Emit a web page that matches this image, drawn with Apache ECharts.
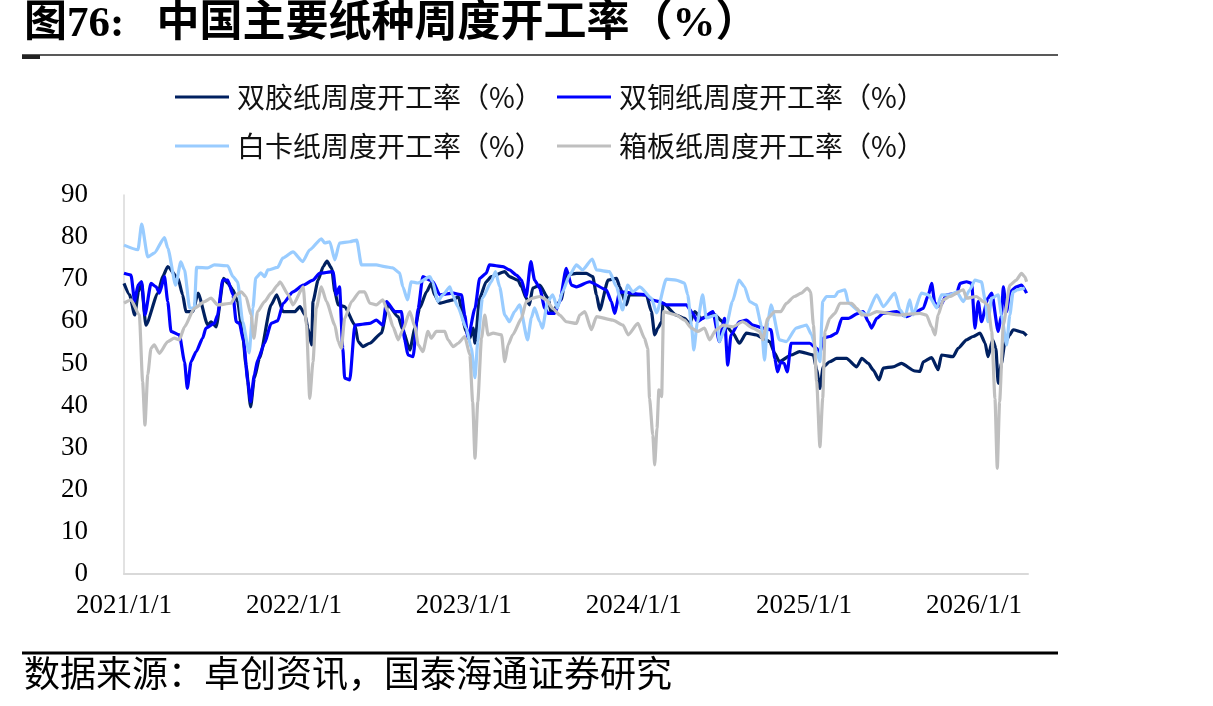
<!DOCTYPE html>
<html>
<head>
<meta charset="utf-8">
<script src="https://cdn.jsdelivr.net/npm/echarts@6/dist/echarts.min.js"></script>
<style>
  html, body { margin: 0; padding: 0; background: #fff; }
  #chart { width: 1213px; height: 706px; }
</style>
</head>
<body>
<div id="chart"></div>
<script>
// 周度开工率(%)
const shuangJiao = [['2021-01-01',69.0],['2021-01-13',66.3],['2021-01-24',61.5],['2021-02-01',67.0],['2021-02-07',69.4],['2021-02-17',59.1],['2021-03-15',66.7],['2021-03-25',70.6],['2021-04-05',73.0],['2021-04-27',70.2],['2021-05-07',66.3],['2021-05-14',62.3],['2021-05-29',62.3],['2021-06-09',66.7],['2021-06-30',59.1],['2021-07-07',59.9],['2021-07-18',58.7],['2021-08-03',70.2],['2021-08-12',69.0],['2021-08-23',67.5],['2021-09-02',64.7],['2021-09-13',56.8],['2021-09-20',49.6],['2021-09-30',39.7],['2021-10-08',46.5],['2021-10-19',51.2],['2021-11-13',63.9],['2021-11-25',66.3],['2021-12-09',62.3],['2022-01-03',62.3],['2022-01-14',63.5],['2022-01-25',61.5],['2022-01-31',58.4],['2022-02-08',54.4],['2022-02-11',64.7],['2022-02-22',69.8],['2022-03-05',73.0],['2022-03-13',74.3],['2022-03-23',72.6],['2022-03-30',67.0],['2022-04-06',63.9],['2022-04-20',63.5],['2022-05-12',59.1],['2022-05-19',55.2],['2022-05-29',54.0],['2022-06-13',54.8],['2022-07-08',57.2],['2022-07-22',63.9],['2022-08-13',61.1],['2022-08-23',58.0],['2022-09-07',53.2],['2022-09-18',58.4],['2022-09-28',63.1],['2022-10-13',67.0],['2022-10-23',69.0],['2022-10-30',66.3],['2022-11-10',64.3],['2022-12-09',65.1],['2022-12-20',65.9],['2023-01-06',57.6],['2023-01-14',56.0],['2023-01-21',58.4],['2023-01-25',54.8],['2023-02-04',65.5],['2023-02-18',69.4],['2023-03-01',70.6],['2023-03-30',71.8],['2023-04-09',70.6],['2023-04-27',69.8],['2023-05-05',68.2],['2023-05-15',65.5],['2023-05-22',63.9],['2023-05-29',67.9],['2023-06-13',68.6],['2023-07-01',65.5],['2023-07-08',61.9],['2023-07-29',65.1],['2023-08-09',71.0],['2023-08-31',71.4],['2023-09-21',71.4],['2023-10-05',70.6],['2023-10-13',66.3],['2023-10-20',62.7],['2023-11-07',69.8],['2023-11-25',70.2],['2023-12-02',68.2],['2023-12-16',63.9],['2023-12-23',66.3],['2024-01-28',66.3],['2024-02-08',62.3],['2024-02-15',56.8],['2024-02-22',58.4],['2024-03-01',59.9],['2024-03-04',64.3],['2024-04-01',61.5],['2024-04-19',60.7],['2024-04-30',59.5],['2024-05-11',62.3],['2024-05-25',60.7],['2024-06-19',61.9],['2024-07-11',59.9],['2024-08-01',57.2],['2024-08-15',54.8],['2024-08-30',57.2],['2024-09-20',56.8],['2024-10-04',56.0],['2024-10-19',55.2],['2024-10-30',52.4],['2024-11-09',50.4],['2024-12-04',52.0],['2024-12-22',52.8],['2025-01-21',52.0],['2025-01-28',48.5],['2025-02-04',44.1],['2025-02-11',49.2],['2025-02-25',50.4],['2025-03-12',51.2],['2025-04-02',51.2],['2025-04-24',49.2],['2025-05-05',51.2],['2025-05-19',50.0],['2025-05-29',48.5],['2025-06-11',46.1],['2025-06-20',48.9],['2025-07-11',49.2],['2025-07-29',50.0],['2025-08-27',48.2],['2025-09-07',48.1],['2025-09-14',50.4],['2025-10-02',51.4],['2025-10-16',48.5],['2025-10-23',52.0],['2025-11-17',51.6],['2025-11-28',53.6],['2025-12-16',55.6],['2025-12-30',56.4],['2026-01-14',57.2],['2026-01-25',54.8],['2026-01-31',51.6],['2026-02-10',55.6],['2026-02-17',53.6],['2026-02-22',45.3],['2026-03-01',50.0],['2026-03-08',54.8],['2026-03-19',56.8],['2026-03-26',58.0],['2026-04-16',57.4],['2026-04-24',56.6]];

const shuangTong = [['2021-01-01',71.4],['2021-01-16',71.0],['2021-01-24',64.7],['2021-01-31',68.6],['2021-02-08',69.4],['2021-02-15',61.5],['2021-02-28',69.0],['2021-03-11',68.2],['2021-03-18',66.7],['2021-03-29',70.6],['2021-04-05',64.7],['2021-04-12',57.6],['2021-04-30',56.8],['2021-05-11',50.4],['2021-05-17',44.1],['2021-05-25',50.4],['2021-06-05',52.8],['2021-06-19',56.0],['2021-06-26',58.4],['2021-07-14',59.5],['2021-07-21',61.5],['2021-08-01',69.8],['2021-08-12',69.8],['2021-08-23',66.3],['2021-08-30',59.9],['2021-09-06',59.5],['2021-09-15',55.2],['2021-09-24',45.7],['2021-09-30',40.9],['2021-10-08',47.3],['2021-10-15',50.8],['2021-10-30',54.8],['2021-11-13',59.5],['2021-11-27',60.1],['2021-12-09',64.3],['2021-12-30',67.0],['2022-01-21',68.6],['2022-02-11',69.8],['2022-02-25',71.4],['2022-03-26',71.8],['2022-04-02',66.3],['2022-04-09',68.2],['2022-04-16',53.6],['2022-04-20',46.5],['2022-05-01',46.1],['2022-05-12',59.1],['2022-06-13',59.5],['2022-06-27',60.3],['2022-07-11',59.1],['2022-07-19',64.7],['2022-08-06',62.3],['2022-08-20',62.3],['2022-08-27',55.6],['2022-09-03',52.0],['2022-09-14',51.6],['2022-09-25',63.1],['2022-10-05',70.6],['2022-10-20',69.8],['2022-10-27',69.4],['2022-11-10',66.3],['2022-12-09',66.7],['2022-12-27',66.3],['2023-01-03',61.5],['2023-01-10',56.0],['2023-01-25',63.1],['2023-02-04',70.2],['2023-02-18',71.4],['2023-02-25',73.4],['2023-03-26',73.0],['2023-04-09',72.2],['2023-04-24',71.0],['2023-05-05',69.8],['2023-05-15',65.9],['2023-05-25',74.2],['2023-06-02',69.8],['2023-06-13',67.9],['2023-06-24',63.1],['2023-07-01',61.9],['2023-07-15',61.9],['2023-07-26',64.7],['2023-08-09',72.6],['2023-08-20',68.6],['2023-08-31',68.2],['2023-09-28',69.4],['2023-11-03',67.5],['2023-11-14',64.7],['2023-11-21',61.9],['2023-12-02',67.0],['2024-01-28',66.3],['2024-02-08',65.1],['2024-02-25',64.7],['2024-03-11',63.9],['2024-04-23',63.9],['2024-05-07',61.9],['2024-05-17',59.9],['2024-05-28',60.7],['2024-06-19',62.3],['2024-07-03',55.2],['2024-07-14',60.7],['2024-07-21',49.6],['2024-07-28',56.8],['2024-08-15',59.9],['2024-08-30',60.3],['2024-09-13',59.1],['2024-10-04',58.4],['2024-10-22',58.0],['2024-10-30',51.2],['2024-11-05',48.0],['2024-11-12',50.4],['2024-11-19',50.0],['2024-11-26',48.0],['2024-12-04',54.8],['2025-01-13',54.8],['2025-01-28',53.6],['2025-02-04',52.4],['2025-02-11',56.0],['2025-02-25',56.4],['2025-03-12',57.2],['2025-03-23',60.7],['2025-04-06',60.7],['2025-04-27',61.9],['2025-05-08',62.3],['2025-05-19',59.9],['2025-05-26',58.4],['2025-06-06',60.7],['2025-06-20',61.9],['2025-07-19',62.3],['2025-08-09',61.1],['2025-08-31',62.3],['2025-09-14',63.1],['2025-09-25',66.3],['2025-10-02',69.0],['2025-10-09',64.3],['2025-10-20',63.5],['2025-11-03',66.3],['2025-11-25',66.7],['2025-12-02',69.0],['2025-12-16',69.4],['2025-12-27',69.0],['2026-01-03',58.4],['2026-01-10',64.7],['2026-01-17',59.9],['2026-01-31',65.5],['2026-02-08',66.7],['2026-02-22',57.6],['2026-03-01',61.5],['2026-03-05',68.2],['2026-03-12',62.3],['2026-03-19',67.0],['2026-04-02',68.2],['2026-04-13',68.6],['2026-04-24',66.7]];

const baiKa = [['2021-01-01',78.1],['2021-01-31',77.0],['2021-02-08',83.1],['2021-02-21',75.3],['2021-03-07',76.2],['2021-03-29',79.9],['2021-04-05',77.4],['2021-04-22',68.6],['2021-05-03',74.1],['2021-05-11',72.2],['2021-05-22',63.2],['2021-06-01',63.0],['2021-06-06',72.8],['2021-06-30',72.7],['2021-07-14',73.4],['2021-08-12',73.2],['2021-08-23',70.6],['2021-09-02',69.4],['2021-09-13',59.9],['2021-09-27',52.5],['2021-10-05',63.2],['2021-10-11',70.3],['2021-10-22',71.5],['2021-10-30',70.6],['2021-11-06',72.2],['2021-11-27',72.8],['2021-12-08',75.0],['2021-12-30',76.5],['2022-01-20',74.2],['2022-02-04',77.0],['2022-03-01',79.6],['2022-03-08',78.6],['2022-03-19',78.9],['2022-03-30',74.6],['2022-04-09',78.6],['2022-05-01',78.9],['2022-05-16',79.3],['2022-05-26',73.4],['2022-06-27',73.4],['2022-07-15',73.0],['2022-08-01',72.7],['2022-08-16',71.5],['2022-08-23',68.2],['2022-09-02',65.1],['2022-09-10',69.4],['2022-09-24',69.1],['2022-10-20',70.6],['2022-10-26',69.4],['2022-11-06',64.7],['2022-11-17',66.3],['2022-12-02',68.2],['2022-12-08',66.3],['2022-12-19',63.5],['2023-01-06',58.4],['2023-01-17',53.7],['2023-01-25',46.6],['2023-01-31',55.2],['2023-02-10',65.5],['2023-03-01',69.4],['2023-03-10',71.8],['2023-03-19',68.2],['2023-03-30',61.5],['2023-04-09',59.9],['2023-04-20',62.3],['2023-05-01',63.9],['2023-05-18',55.6],['2023-05-26',60.8],['2023-06-02',63.2],['2023-06-13',59.9],['2023-06-19',58.4],['2023-06-30',64.7],['2023-07-11',66.3],['2023-07-21',63.2],['2023-08-01',67.0],['2023-08-16',71.0],['2023-08-31',73.4],['2023-09-13',72.2],['2023-10-04',74.8],['2023-10-13',72.2],['2023-11-10',71.8],['2023-11-25',68.2],['2023-12-08',62.7],['2023-12-19',68.6],['2023-12-30',67.0],['2024-01-14',68.2],['2024-02-08',65.5],['2024-02-19',62.0],['2024-03-11',70.0],['2024-04-01',69.8],['2024-04-19',69.1],['2024-04-26',66.3],['2024-05-04',59.1],['2024-05-09',53.2],['2024-05-17',59.9],['2024-05-28',66.3],['2024-06-05',60.8],['2024-06-26',61.5],['2024-07-03',55.2],['2024-07-18',59.1],['2024-07-31',64.7],['2024-08-14',69.8],['2024-08-26',68.2],['2024-09-06',64.7],['2024-09-20',63.9],['2024-10-01',59.1],['2024-10-08',50.8],['2024-10-15',59.9],['2024-10-22',63.9],['2024-11-09',55.6],['2024-11-24',55.2],['2024-12-15',58.4],['2025-01-06',59.1],['2025-01-17',56.8],['2025-01-28',52.8],['2025-02-04',50.4],['2025-02-10',64.7],['2025-02-18',65.9],['2025-03-08',65.9],['2025-03-15',67.0],['2025-03-30',67.5],['2025-04-06',64.4],['2025-05-01',62.3],['2025-05-15',61.5],['2025-06-06',66.3],['2025-06-20',63.5],['2025-07-15',66.7],['2025-07-26',62.7],['2025-08-06',61.1],['2025-08-16',65.1],['2025-08-23',61.5],['2025-09-10',66.7],['2025-09-25',66.3],['2025-10-13',63.2],['2025-10-23',66.3],['2025-11-10',66.3],['2025-11-25',67.0],['2025-12-09',64.7],['2025-12-23',67.5],['2026-01-03',69.8],['2026-01-17',69.4],['2026-01-25',65.0],['2026-01-31',59.9],['2026-02-08',65.5],['2026-02-22',66.3],['2026-03-01',61.5],['2026-03-12',54.4],['2026-03-19',61.5],['2026-03-26',67.0],['2026-04-05',67.5],['2026-04-20',67.9]];

const xiangBan = [['2021-01-01',64.3],['2021-01-16',65.1],['2021-02-03',61.5],['2021-02-10',45.7],['2021-02-15',35.4],['2021-02-21',47.3],['2021-02-28',53.6],['2021-03-07',54.4],['2021-03-18',52.4],['2021-04-05',55.2],['2021-04-19',56.0],['2021-04-30',55.6],['2021-05-11',58.7],['2021-06-01',63.1],['2021-06-23',64.7],['2021-07-07',65.5],['2021-07-21',63.9],['2021-08-19',64.3],['2021-08-30',66.3],['2021-09-10',67.0],['2021-09-20',65.9],['2021-10-01',61.5],['2021-10-07',56.0],['2021-10-15',62.3],['2021-10-30',64.7],['2021-11-13',66.7],['2021-11-27',68.6],['2021-12-02',69.4],['2021-12-20',66.3],['2021-12-30',63.9],['2022-01-21',68.2],['2022-01-28',59.1],['2022-02-04',41.7],['2022-02-11',50.4],['2022-02-18',63.1],['2022-03-01',68.2],['2022-03-12',64.7],['2022-03-30',59.1],['2022-04-06',55.2],['2022-04-13',53.6],['2022-04-20',60.7],['2022-05-05',64.7],['2022-05-22',67.0],['2022-06-02',67.0],['2022-06-13',64.3],['2022-06-27',63.9],['2022-07-11',65.1],['2022-07-22',62.3],['2022-08-02',58.7],['2022-08-13',55.6],['2022-08-23',58.0],['2022-09-07',62.3],['2022-09-18',58.7],['2022-09-25',54.4],['2022-10-05',52.8],['2022-10-16',57.6],['2022-10-23',56.0],['2022-11-03',57.6],['2022-11-21',57.6],['2022-11-28',55.6],['2022-12-09',54.0],['2022-12-20',54.8],['2023-01-03',56.4],['2023-01-14',52.0],['2023-01-20',40.9],['2023-01-25',27.5],['2023-01-31',40.9],['2023-02-08',56.0],['2023-02-15',61.5],['2023-02-22',56.8],['2023-03-05',57.2],['2023-03-23',56.8],['2023-03-30',50.4],['2023-04-06',54.4],['2023-04-16',56.8],['2023-05-05',60.7],['2023-05-15',64.7],['2023-05-29',65.5],['2023-06-13',65.9],['2023-06-27',65.1],['2023-07-11',63.1],['2023-07-26',61.5],['2023-08-09',59.9],['2023-08-31',59.5],['2023-09-07',61.5],['2023-09-18',62.3],['2023-10-02',58.0],['2023-10-13',61.1],['2023-11-17',60.3],['2023-12-09',59.1],['2023-12-20',56.8],['2024-01-10',59.5],['2024-01-24',56.0],['2024-01-31',53.6],['2024-02-04',41.7],['2024-02-11',33.0],['2024-02-15',25.9],['2024-02-20',34.6],['2024-02-24',43.7],['2024-03-01',42.1],['2024-03-05',62.3],['2024-04-01',61.5],['2024-04-19',60.3],['2024-05-04',58.4],['2024-05-17',57.6],['2024-06-01',58.4],['2024-06-12',55.6],['2024-06-26',58.0],['2024-07-11',59.1],['2024-08-01',58.7],['2024-08-22',59.9],['2024-09-13',58.4],['2024-09-27',57.6],['2024-10-04',55.6],['2024-10-15',60.7],['2024-10-30',62.3],['2024-11-12',62.3],['2024-11-24',64.3],['2024-12-11',65.9],['2024-12-26',66.7],['2025-01-08',67.9],['2025-01-15',67.0],['2025-01-21',59.1],['2025-01-28',45.7],['2025-02-04',30.2],['2025-02-10',41.7],['2025-02-15',57.6],['2025-02-25',60.7],['2025-03-08',61.9],['2025-03-19',64.3],['2025-04-13',64.3],['2025-04-24',63.1],['2025-05-05',61.5],['2025-05-19',61.5],['2025-06-06',62.3],['2025-07-26',61.5],['2025-09-07',61.9],['2025-09-21',61.5],['2025-10-02',58.7],['2025-10-09',56.8],['2025-10-16',61.5],['2025-10-27',65.1],['2025-11-10',65.9],['2025-12-09',67.5],['2025-12-16',65.5],['2026-01-06',65.9],['2026-01-21',64.7],['2026-01-31',63.9],['2026-02-08',57.6],['2026-02-15',41.7],['2026-02-20',25.1],['2026-02-25',40.9],['2026-03-05',59.1],['2026-03-19',68.6],['2026-04-02',69.8],['2026-04-13',71.4],['2026-04-20',70.6],['2026-04-24',69.4]];

const seriesNames = ['双胶纸周度开工率（%）', '双铜纸周度开工率（%）', '白卡纸周度开工率（%）', '箱板纸周度开工率（%）'];
const seriesColors = ['#002060', '#0000FF', '#99CCFF', '#BFBFBF'];
const seriesData = [shuangJiao, shuangTong, baiKa, xiangBan];

const titleText = '图76:   中国主要纸种周度开工率（%）';
const sourceText = '数据来源：卓创资讯，国泰海通证券研究';

const serif = "'Liberation Serif', 'Noto Sans CJK SC'";
const cjk = "'Noto Sans CJK SC'";

const chart = echarts.init(document.getElementById('chart'));

const legendPos = [[175, 83], [557, 83], [175, 132], [557, 132]];

chart.setOption({
    animation: false,
    backgroundColor: '#fff',
    title: {
        text: titleText,
        left: 24,
        top: 3,
        padding: 0,
        textStyle: { fontFamily: serif, fontSize: 43, fontWeight: 'bold', color: '#000' }
    },
    legend: seriesNames.map((name, i) => ({
        data: [name],
        left: legendPos[i][0],
        top: legendPos[i][1],
        padding: 0,
        icon: 'rect',
        itemWidth: 54,
        itemHeight: 3,
        textStyle: { fontFamily: cjk, fontSize: 28, color: '#111', padding: [0, 0, 0, 3] }
    })),
    grid: { left: 124, right: 185, top: 195, bottom: 132 },
    xAxis: {
        type: 'time',
        min: '2021-01-01',
        max: '2026-04-27',
        minInterval: 365 * 24 * 3600 * 1000,
        axisLine: { lineStyle: { color: '#d9d9d9', width: 2 } },
        axisTick: { show: false },
        splitLine: { show: false },
        axisLabel: {
            formatter: '{yyyy}/{M}/{d}',
            showMaxLabel: false,
            fontFamily: serif,
            fontSize: 27,
            color: '#000',
            margin: 18
        }
    },
    yAxis: {
        type: 'value',
        min: 0,
        max: 90,
        interval: 10,
        axisLine: { show: true, lineStyle: { color: '#d9d9d9', width: 1.5 } },
        axisTick: { show: false },
        splitLine: { show: false },
        axisLabel: { fontFamily: serif, fontSize: 27, color: '#000', margin: 36 }
    },
    series: seriesNames.map((name, i) => ({
        name: name,
        type: 'line',
        data: seriesData[i],
        symbol: 'none',
        smooth: 0.2,
        smoothMonotone: 'x',
        color: seriesColors[i],
        lineStyle: { width: 3.2, color: seriesColors[i] }
    })),
    graphic: [
        { type: 'line', shape: { x1: 22, y1: 55, x2: 1058, y2: 55 }, style: { stroke: '#222', lineWidth: 1.5 } },
        { type: 'rect', shape: { x: 22, y: 55, width: 18, height: 4 }, style: { fill: '#222' } },
        { type: 'line', shape: { x1: 22, y1: 653, x2: 1058, y2: 653 }, style: { stroke: '#000', lineWidth: 3 } },
        {
            type: 'text', left: 24, top: 655,
            style: { text: sourceText, fontFamily: cjk, fontSize: 36, fill: '#000' }
        }
    ]
});
</script>
</body>
</html>
